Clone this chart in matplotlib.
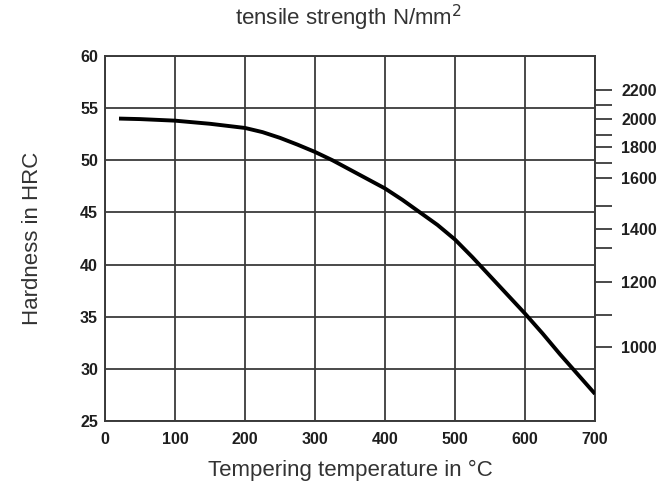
import matplotlib
matplotlib.use("Agg")
import matplotlib.pyplot as plt

# Tempering curve: hardness vs tempering temperature
temperature_c = [20, 50, 100, 150, 175, 200, 225, 250, 275, 300, 325, 350, 375, 400,
                 425, 450, 475, 500, 525, 550, 575, 600, 625, 650, 675, 700]
hardness_hrc = [54.0, 53.95, 53.8, 53.5, 53.3, 53.1, 52.7, 52.15, 51.5, 50.8, 50.0, 49.1,
                48.2, 47.3, 46.2, 45.0, 43.8, 42.4, 40.7, 38.9, 37.1, 35.3, 33.4, 31.4,
                29.5, 27.6]

x_ticks = [0, 100, 200, 300, 400, 500, 600, 700]
y_ticks = [25, 30, 35, 40, 45, 50, 55, 60]

# Tensile strength scale on the right, placed at the equivalent hardness
tensile_values = [2200, 2100, 2000, 1900, 1800, 1700, 1600, 1500, 1400, 1300, 1200, 1100, 1000]
tensile_hrc_pos = [56.75, 55.3, 53.95, 52.45, 51.3, 49.75, 48.3, 45.6, 43.4, 41.6, 38.35, 35.2, 32.1]
tensile_labels = [str(v) if v % 200 == 0 else "" for v in tensile_values]

fig = plt.figure(figsize=(6.66, 4.93), dpi=100)
ax = fig.add_axes([105 / 666, 1 - 421 / 493, 490 / 666, 365 / 493])

grid_col = "#3a3a3a"
text_col = "#1e1e1e"
ax.set_xlim(0, 700)
ax.set_ylim(25, 60)
ax.set_xticks(x_ticks)
ax.set_yticks(y_ticks)
ax.grid(True, color=grid_col, linewidth=1.3)
ax.set_axisbelow(True)
for s in ax.spines.values():
    s.set_color(grid_col)
    s.set_linewidth(1.4)

tick_font = dict(family="Liberation Sans", weight="bold", size=11.5)
ax.tick_params(axis="both", length=0, colors=text_col)
ax.set_xticklabels([str(v) for v in x_ticks], **tick_font, color=text_col)
ax.set_yticklabels([str(v) for v in y_ticks], **tick_font, color=text_col)
ax.tick_params(axis="x", pad=8)
ax.tick_params(axis="y", pad=5)

ax.plot(temperature_c, hardness_hrc, color="black", linewidth=2.8,
        solid_capstyle="butt", solid_joinstyle="round", zorder=3)

# Secondary scale
ax2 = ax.twinx()
ax2.set_ylim(25, 60)
ax2.set_yticks(tensile_hrc_pos)
ax2.set_yticklabels(tensile_labels, family="Liberation Sans", weight="bold",
                    size=11.5, color=text_col)
ax2.tick_params(axis="y", direction="out", length=12, width=1.3,
                colors=grid_col, pad=7)
for lbl in ax2.get_yticklabels():
    lbl.set_color(text_col)
for s in ax2.spines.values():
    s.set_visible(False)

label_font = dict(family="Liberation Sans", size=16, color="#333333")
fig.text(348 / 666, 1 - 18 / 493, "tensile strength N/mm$^2$", ha="center",
         va="center", **label_font)
fig.text(350 / 666, 1 - 470 / 493, "Tempering temperature in °C", ha="center",
         va="center", **label_font)
fig.text(33 / 666, 1 - 238 / 493, "Hardness in HRC", ha="center", va="center",
         rotation=90, **label_font)

fig.savefig("out.png", dpi=100)
